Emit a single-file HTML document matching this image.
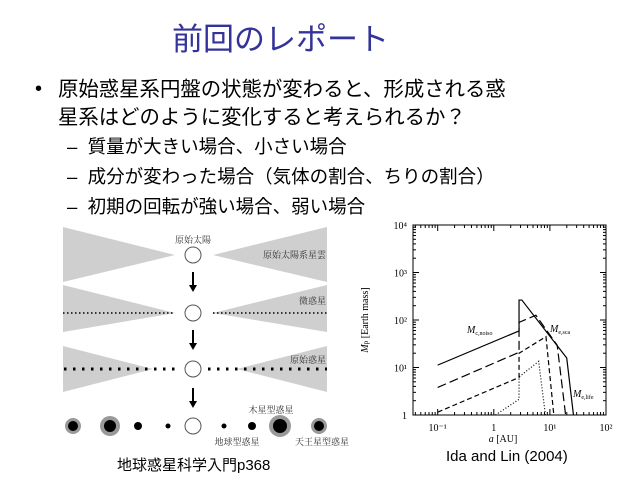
<!DOCTYPE html>
<html><head><meta charset="utf-8">
<style>
body{margin:0;background:#fff;}
#root{position:relative;width:640px;height:480px;overflow:hidden;font-family:"Liberation Sans","Noto Sans CJK JP",sans-serif;color:#000;}
.t{position:absolute;white-space:nowrap;line-height:1;}
</style></head>
<body>
<div id="root">
<div class="t" style="left:172px;top:24px;font-size:31px;color:#333399;">前回のレポート</div>
<div class="t" style="left:35px;top:79px;font-size:20px;">•</div>
<div class="t" style="left:58px;top:80px;font-size:20.4px;">原始惑星系円盤の状態が変わると、形成される惑</div>
<div class="t" style="left:58px;top:108px;font-size:20.4px;">星系はどのように変化すると考えられるか？</div>
<div class="t" style="left:67px;top:138px;font-size:18.5px;">–&nbsp;&nbsp;質量が大きい場合、小さい場合</div>
<div class="t" style="left:67px;top:168px;font-size:18.5px;">–&nbsp;&nbsp;成分が変わった場合（気体の割合、ちりの割合）</div>
<div class="t" style="left:67px;top:198px;font-size:18.5px;">–&nbsp;&nbsp;初期の回転が強い場合、弱い場合</div>

<svg width="640" height="480" style="position:absolute;left:0;top:0" font-family="Liberation Serif,Noto Serif CJK SC,serif">
 <g fill="#cfcfcf">
  <polygon points="63,227 175,255 63,282"/><polygon points="327,227 213,255 327,282"/>
  <polygon points="63,285 175,313 63,332"/><polygon points="327,285 213,313 327,332"/>
  <polygon points="63,346 153,369 63,392"/><polygon points="327,346 237,369 327,392"/>
 </g>
 <line x1="63" y1="313" x2="175" y2="313" stroke="#333" stroke-width="2" stroke-dasharray="1.5,2.5"/>
 <line x1="213" y1="313" x2="327" y2="313" stroke="#333" stroke-width="2" stroke-dasharray="1.5,2.5"/>
 <line x1="64" y1="369" x2="180" y2="369" stroke="#000" stroke-width="3" stroke-dasharray="2.5,6.5"/>
 <line x1="208" y1="369" x2="327" y2="369" stroke="#000" stroke-width="3" stroke-dasharray="2.5,6.5"/>
 <g fill="#fff" stroke="#555" stroke-width="1">
  <circle cx="193" cy="255" r="8"/><circle cx="193" cy="313" r="8"/><circle cx="193" cy="369" r="8"/><circle cx="193" cy="426" r="8"/>
 </g>
 <g stroke="#000" stroke-width="2"><line x1="193" y1="272" x2="193" y2="286"/><line x1="193" y1="330" x2="193" y2="344"/><line x1="193" y1="388" x2="193" y2="402"/></g>
 <g fill="#000"><polygon points="189,285 197,285 193,292"/><polygon points="189,343 197,343 193,350"/><polygon points="189,401 197,401 193,408"/></g>
 <g fill="#999"><circle cx="73" cy="426" r="8"/><circle cx="110" cy="426" r="10"/><circle cx="280" cy="426" r="11"/><circle cx="319" cy="426" r="8"/></g>
 <g fill="#000"><circle cx="73" cy="426" r="5"/><circle cx="110" cy="426" r="6"/><circle cx="138" cy="426" r="4"/><circle cx="168" cy="426" r="2.5"/><circle cx="224" cy="426" r="2.5"/><circle cx="252" cy="426" r="4"/><circle cx="280" cy="426" r="7"/><circle cx="319" cy="426" r="5"/></g>
 <g font-size="9" fill="#333">
  <text x="193" y="243" text-anchor="middle">原始太陽</text>
  <text x="326" y="258" text-anchor="end">原始太陽系星雲</text>
  <text x="326" y="304" text-anchor="end">微惑星</text>
  <text x="326" y="363" text-anchor="end">原始惑星</text>
  <text x="271" y="413" text-anchor="middle">木星型惑星</text>
  <text x="237" y="445" text-anchor="middle">地球型惑星</text>
  <text x="322" y="445" text-anchor="middle">天王星型惑星</text>
 </g>
</svg>
<div class="t" style="left:117px;top:458px;font-size:15px;">地球惑星科学入門p368</div>

<svg id="chart" width="640" height="480" style="position:absolute;left:0;top:0" font-family="Liberation Serif,serif"></svg>
<div class="t" style="left:446px;top:449px;font-size:15px;">Ida and Lin (2004)</div>
</div>
<script>
// log10(a), log10(M) vertices
const solidX=[-1,0.45,0.45,0.5,1.3,1.42];
const solidY=[1.05,1.77,2.42,2.42,1.2,0];
const longDashX=[-1,0.45,0.45,0.75,1.13,1.28];
const longDashY=[0.58,1.32,1.95,2.1,1.47,0];
const dashX=[-1,0.45,0.45,0.93,1.07];
const dashY=[0.06,0.79,1.3,1.65,0];
const dotX=[0.03,0.45,0.45,0.8,0.92];
const dotY=[0,0.33,0.8,1.13,0];
const xTicks=[-1,0,1,2];
const xTickLabels=["10⁻¹","1","10¹","10²"];
const yTicks=[0,1,2,3,4];
const yTickLabels=["1","10¹","10²","10³","10⁴"];
const X0=413,X1=606,Y0=415,Y1=225,xmin=-1.44,xmax=2,ymin=0,ymax=4;
const sx=v=>X0+(v-xmin)/(xmax-xmin)*(X1-X0);
const sy=v=>Y0-(v-ymin)/(ymax-ymin)*(Y0-Y1);
const svg=document.getElementById('chart');
const NS='http://www.w3.org/2000/svg';
function mk(t,a){const e=document.createElementNS(NS,t);for(const k in a)e.setAttribute(k,a[k]);svg.appendChild(e);return e;}
const fr=mk('rect',{x:X0,y:Y1,width:X1-X0,height:Y0-Y1,fill:'none',stroke:'#000','stroke-width':1});


xTicks.forEach((v,i)=>{
 for(let m=1;m<10;m++){const lv=v+Math.log10(m);if(lv<xmin||lv>xmax)continue;const L=m==1?6:3;
  mk('line',{x1:sx(lv),y1:Y0,x2:sx(lv),y2:Y0-L,stroke:'#000'});mk('line',{x1:sx(lv),y1:Y1,x2:sx(lv),y2:Y1+L,stroke:'#000'});}
 if(v-1>=xmin-1){for(let m=2;m<10;m++){const lv=v-1+Math.log10(m);if(lv>=xmin&&lv<xTicks[0]){mk('line',{x1:sx(lv),y1:Y0,x2:sx(lv),y2:Y0-3,stroke:'#000'});mk('line',{x1:sx(lv),y1:Y1,x2:sx(lv),y2:Y1+3,stroke:'#000'});}}}
 const t=mk('text',{x:sx(v),y:Y0+16,'font-size':10,'text-anchor':'middle'});t.textContent=xTickLabels[i];
 
 
});
yTicks.forEach((v,i)=>{
 for(let m=1;m<10;m++){const lv=v+Math.log10(m);if(lv>ymax)continue;const L=m==1?6:3;
  mk('line',{x1:X0,y1:sy(lv),x2:X0+L,y2:sy(lv),stroke:'#000'});mk('line',{x1:X1,y1:sy(lv),x2:X1-L,y2:sy(lv),stroke:'#000'});}
 const t=mk('text',{x:X0-6,y:sy(v)+4,'font-size':10,'text-anchor':'end'});t.textContent=yTickLabels[i];
 
 
});
function line(xs,ys,dash,name){const p=mk('polyline',{points:xs.map((x,i)=>sx(x)+','+sy(ys[i])).join(' '),fill:'none',stroke:'#000','stroke-width':1.2,'stroke-dasharray':dash});
 
 }
line(solidX,solidY,'none','series-solid');
line(longDashX,longDashY,'9,4','series-long-dash');
line(dashX,dashY,'5,3','series-dash');
line(dotX,dotY,'1,2','series-dotted');
const xl=mk('text',{x:503,y:442,'font-size':10,'text-anchor':'middle'});xl.innerHTML='<tspan font-style="italic">a</tspan> [AU]';


const yl=mk('text',{x:0,y:0,'font-size':10,'text-anchor':'middle',transform:'translate(368,320) rotate(-90)'});yl.innerHTML='<tspan font-style="italic">M</tspan><tspan font-size="7">p</tspan> [Earth mass]';


[['M','c,noiso',467,333],['M','e,sca',550,332],['M','e,life',573,397]].forEach(a=>{const t=mk('text',{x:a[2],y:a[3],'font-size':10});t.innerHTML='<tspan font-style="italic">'+a[0]+'</tspan><tspan font-size="6" dy="2">'+a[1]+'</tspan>';
 
 });
</script>
</body></html>
